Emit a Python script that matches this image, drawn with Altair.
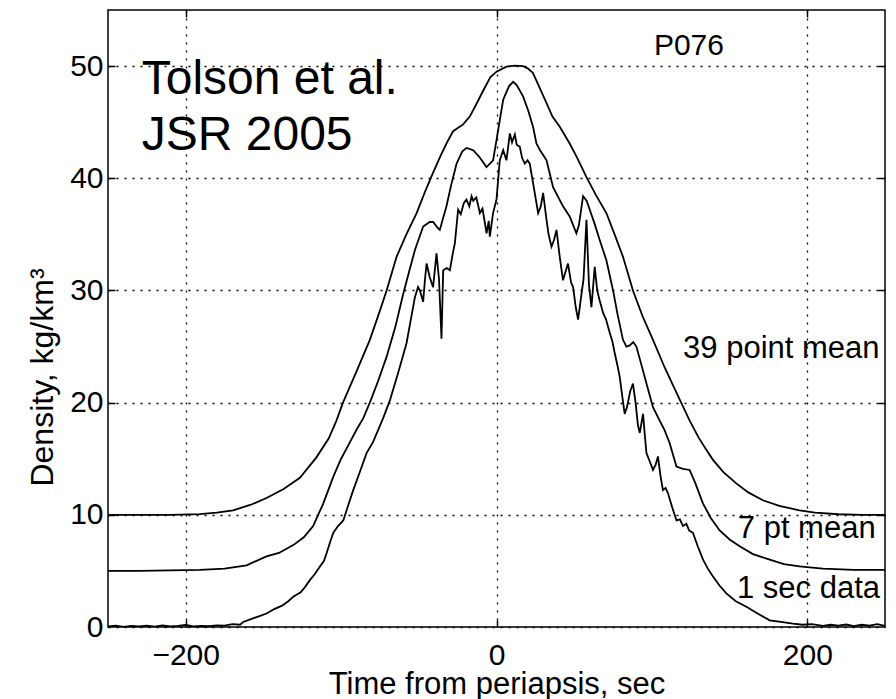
import altair as alt
import pandas as pd

# 39 point mean (offset curve, top)
t39 = [-250, -230, -210, -191, -180, -169.5, -158, -148, -137, -126.5, -116, -108, -103, -98.8, -90,
       -81.5, -76, -70.7, -64.3, -58, -51.4, -46, -40.8, -36, -32.2, -27.9, -21.5, -17.2, -13, -8.6, -4,
       0, 6.4, 12, 17.1, 20, 23.4, 27, 32.2, 36, 40.7, 47.1, 52, 57.9, 64, 70.7, 76, 81.4, 87.8, 94,
       100.7, 108, 115.8, 124.3, 130, 135, 139.3, 146, 154.3, 162, 171.4, 182, 195, 205, 220, 235, 250]
d39 = [10.0, 10.0, 10.0, 10.07, 10.2, 10.4, 10.9, 11.5, 12.3, 13.3, 15.1, 16.8, 18.4, 20.0, 22.8,
       25.6, 27.8, 30.0, 33.0, 35.0, 36.9, 38.8, 40.5, 42.0, 43.1, 44.2, 44.8, 45.5, 46.6, 47.8, 49.0,
       49.5, 49.95, 50.05, 50.0, 49.8, 49.4, 48.3, 46.7, 45.5, 44.6, 43.1, 41.8, 40.1, 38.5, 36.9, 35.0, 33.0, 30.0, 27.7,
       25.6, 23.2, 20.9, 18.4, 16.9, 15.8, 14.9, 13.8, 12.8, 12.0, 11.3, 10.8, 10.4, 10.2, 10.05, 10.0, 10.0]

# 7 pt mean (offset curve, middle)
t7 = [-250, -230, -210, -191, -175, -160.8, -148, -140, -130.8, -124, -118, -111.5, -105, -100, -96.5,
      -90, -85.8, -81.5, -76, -70.7, -65, -60, -56, -52.5, -47.2, -43, -40.8, -38, -36.5, -32.2, -29,
      -25.7, -22, -19.3, -15, -11, -6.4, -2.2, 0, 4.3, 8, 10.7, 13, 17.1, 20.5, 23.5, 25.7, 28, 32.2,
      36.4, 42.8, 47.1, 51.4, 53, 55.7, 58, 60, 63, 66.4, 70.7, 75, 78, 81.4, 83.6, 85.7, 88, 90, 93,
      96.5, 100.7, 105, 108, 111.4, 115.8, 120, 124.3, 128, 132.9, 138, 143.6, 150, 156.5, 165,
      175.8, 185, 195, 210, 230, 250]
d7 = [5.0, 5.0, 5.05, 5.1, 5.2, 5.5, 6.3, 6.6, 7.3, 8.0, 9.0, 11.0, 13.4, 15.0, 15.9,
      17.6, 18.6, 20.0, 22.0, 24.1, 26.8, 29.7, 31.8, 33.6, 35.7, 36.1, 36.1, 35.6, 35.4, 37.5, 39.5,
      41.3, 42.4, 42.7, 42.5, 41.9, 41.0, 41.6, 43.4, 47.0, 48.2, 48.6, 48.3, 47.3, 46.0, 44.6, 43.1, 42.5, 41.6,
      39.2, 37.5, 36.6, 35.1, 35.8, 38.4, 38.0, 37.2, 36.0, 34.5, 32.7, 30.0, 27.8, 25.6, 25.0, 25.1, 25.4, 25.0, 23.5,
      21.7, 19.6, 18.4, 17.6, 16.4, 14.3, 14.1, 14.0, 12.8, 11.0, 9.7, 8.6, 7.8, 7.2, 6.5,
      6.0, 5.6, 5.4, 5.2, 5.1, 5.1]

# 1 sec data (bottom)
t1 = [-250, -245, -240, -235, -230, -225, -220, -215, -210, -205, -200, -195, -190, -185, -180, -175,
      -170, -165, -163, -158, -153, -148, -143, -138, -134, -130.8, -126, -123, -120, -117, -113.6, -111,
      -109.3, -107, -105, -102, -98.6, -96, -92.2, -88, -83.6, -79.4, -73, -68.6, -63, -57.9, -55, -52.5,
      -50.5, -49.3, -47.2, -46, -45, -43, -40.8, -38.6, -37, -35.4, -34.3, -32, -30, -28, -26.8, -24.7,
      -23, -21, -19.3, -17.5, -16, -15, -13, -10.7, -9, -6.4, -5, -4.3, -2.2, 0, 2.1, 4.3, 6.4, 8.6,
      10, 11.8, 13, 15, 16.5, 18.2, 20, 21.4, 23, 24.6, 26.8, 28.5, 30, 32.2, 33.5, 35.4, 37, 38.6,
      40.7, 42.8, 46, 48, 49.3, 51, 52.5, 54.7, 56, 57.9, 59.5, 61.1, 63.2, 64.8, 66.4, 68.6, 70.5,
      72.9, 74.5, 76.1, 78, 79.3, 81, 82.5, 84, 86, 87.8, 89.5, 91, 92.2, 94.3, 95.5, 96.5, 98.5, 100.7,
      102.5, 103.9, 105.5, 107.1, 108.8, 110.4, 113, 115.8, 118, 120, 122.2, 124, 126.4, 129.5, 132.9,
      136, 139.3, 143.5, 147.9, 154, 160.8, 168, 175.8, 183, 190.7, 197, 203, 210, 215, 220, 225, 230,
      235, 240, 245, 250]
d1 = [0.05, 0.12, 0.02, 0.1, 0.05, 0.12, 0.03, 0.15, 0.05, 0.1, 0.18, 0.05, 0.1, 0.08, 0.15, 0.12,
      0.25, 0.2, 0.45, 0.7, 0.95, 1.2, 1.6, 1.9, 2.3, 2.7, 3.1, 3.6, 4.2, 4.7, 5.4, 5.9,
      6.6, 7.6, 8.4, 9.0, 9.5, 10.6, 12.2, 13.8, 15.5, 16.5, 18.6, 20.2, 22.8, 25.3, 27.5, 29.4,
      30.3, 30.0, 29.0, 31.0, 32.4, 31.2, 30.3, 33.3, 31.0, 25.7, 31.8, 32.0, 31.8, 33.4, 34.2, 37.2,
      36.8, 37.8, 38.1, 37.5, 38.4, 38.0, 38.3, 36.9, 37.3, 35.1, 36.2, 34.8, 36.9, 38.1, 41.6, 42.5, 41.6, 44.0,
      43.2, 43.9, 43.0, 42.8, 41.8, 41.3, 41.6, 41.3, 40.0, 38.7, 36.9, 37.5, 38.7, 36.3, 35.0, 33.9, 34.5, 35.4,
      33.0, 30.9, 32.4, 30.7, 30.3, 28.5, 27.4, 29.7, 31.0, 36.3, 30.5, 28.5, 32.1, 30.0, 29.1, 28.0, 27.4,
      26.2, 25.5, 24.4, 23.2, 22.3, 20.5, 19.0, 19.6, 21.0, 21.7, 20.0, 18.0, 17.3, 19.0, 17.0, 15.5, 14.8, 14.0,
      14.5, 15.2, 13.5, 12.2, 12.4, 11.9, 10.7, 9.5, 9.6, 9.0, 9.2, 8.6, 8.4, 7.2, 6.0,
      5.2, 4.5, 3.7, 3.0, 2.3, 1.8, 1.2, 0.6, 0.45, 0.3, 0.2, 0.25, 0.1, 0.2, 0.12, 0.22, 0.08,
      0.2, 0.12, 0.25, 0.1]

series_names = ["39 point mean", "7 pt mean", "1 sec data"]

# annotations
big_labels = ["Tolson et al.", "JSR 2005"]
big_t = [-228.3, -228.3]
big_d = [47.5, 42.5]

small_labels = ["39 point mean", "7 pt mean", "1 sec data"]
small_t = [246.5, 244.0, 246.8]
small_d = [24.0, 7.9, 2.56]

panel_label = ["P076"]
panel_t = [101.3]
panel_d = [51.0]

x_ticks = [-200, 0, 200]
y_ticks = [0, 10, 20, 30, 40, 50]

rows = []
for name, ts, ds in zip(series_names, [t39, t7, t1], [d39, d7, d1]):
    for t, d in zip(ts, ds):
        rows.append({"series": name, "t": t, "d": d})
df = pd.DataFrame(rows)

FONT = "Liberation Sans"
xs = alt.Scale(domain=[-250, 250], nice=False, zero=False)
ys = alt.Scale(domain=[0, 55], nice=False, zero=False)

base = alt.Chart(df)

lines = base.mark_line(color="black", strokeWidth=1.8, clip=True).encode(
    x=alt.X("t:Q", scale=xs, axis=alt.Axis(
        values=x_ticks, grid=True, gridDash=[2, 6], gridColor="black", gridWidth=1.3,
        ticks=False, tickSize=0, domain=False, labelFontSize=30, labelPadding=13,
        labelColor="black", labelFont=FONT, labelFlush=False,
        title="Time from periapsis, sec", titleFontSize=31, titleFontWeight="normal",
        titleFont=FONT, titleColor="black", titleY=66, titleBaseline="alphabetic")),
    y=alt.Y("d:Q", scale=ys, axis=alt.Axis(
        values=y_ticks, grid=True, gridDash=[2, 6], gridColor="black", gridWidth=1.3,
        ticks=False, tickSize=0, domain=False, labelFontSize=30, labelPadding=5,
        labelColor="black", labelFont=FONT, labelFlush=False,
        title="Density, kg/km³", titleFontSize=32, titleFontWeight="normal",
        titleFont=FONT, titleColor="black", titleX=-56, titleY=367,
        titleBaseline="alphabetic", titleAngle=270)),
    detail="series:N",
)


def tick_layer(xorient, yorient, yvals):
    return base.mark_line(opacity=0).encode(
        x=alt.X("t:Q", scale=xs, axis=alt.Axis(
            orient=xorient, values=x_ticks, offset=-7, tickSize=7, tickColor="black",
            tickWidth=1.5, labels=False, domain=False, grid=False, title="")),
        y=alt.Y("d:Q", scale=ys, axis=alt.Axis(
            orient=yorient, values=yvals, offset=-7, tickSize=7, tickColor="black",
            tickWidth=1.5, labels=False, domain=False, grid=False, title="")),
        detail="series:N",
    )


ticks_lb = tick_layer("bottom", "left", [10, 20, 30, 40, 50])
ticks_tr = tick_layer("top", "right", [10, 20, 30, 40, 50])

big_df = pd.DataFrame({"t": big_t, "d": big_d, "label": big_labels})
big_text = alt.Chart(big_df).mark_text(
    align="left", baseline="alphabetic", fontSize=48, font=FONT, color="black"
).encode(
    x=alt.X("t:Q", scale=xs, axis=None),
    y=alt.Y("d:Q", scale=ys, axis=None),
    text="label:N",
)

small_df = pd.DataFrame({"t": small_t, "d": small_d, "label": small_labels})
small_text = alt.Chart(small_df).mark_text(
    align="right", baseline="alphabetic", fontSize=31, font=FONT, color="black"
).encode(
    x=alt.X("t:Q", scale=xs, axis=None),
    y=alt.Y("d:Q", scale=ys, axis=None),
    text="label:N",
)

panel_df = pd.DataFrame({"t": panel_t, "d": panel_d, "label": panel_label})
panel_text = alt.Chart(panel_df).mark_text(
    align="left", baseline="alphabetic", fontSize=30, font=FONT, color="black"
).encode(
    x=alt.X("t:Q", scale=xs, axis=None),
    y=alt.Y("d:Q", scale=ys, axis=None),
    text="label:N",
)

chart = alt.layer(
    lines, ticks_lb, ticks_tr, big_text, small_text, panel_text
).resolve_axis(x="independent", y="independent").properties(
    width=777, height=617,
    autosize=alt.AutoSizeParams(type="none"),
    padding={"left": 100, "top": 2, "right": 3, "bottom": 72},
    background="white",
).configure_view(
    stroke="black", strokeWidth=1.5
)

chart.save("out.html", embed_options={"renderer": "svg", "actions": False})
